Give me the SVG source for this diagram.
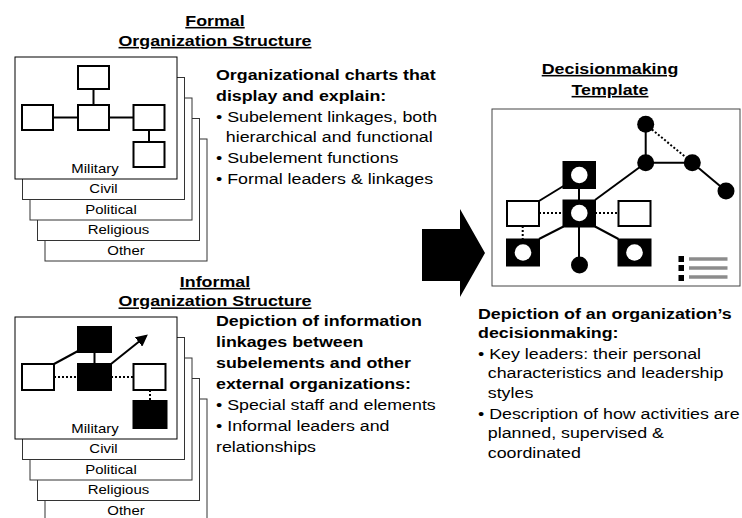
<svg xmlns="http://www.w3.org/2000/svg" width="742" height="518" viewBox="0 0 742 518">
  <defs>
    <style>
      text { font-family: "Liberation Sans", Arial, sans-serif; fill: #000; }
      .title { font-size: 15.5px; font-weight: bold; text-anchor: middle; text-decoration: underline; }
      .bold { font-size: 15.5px; font-weight: bold; }
      .body { font-size: 15.5px; }
      .label { font-size: 13px; text-anchor: middle; }
      .sheet { fill: #fff; stroke: #333; stroke-width: 1; }
      .sheet-top { fill: #fff; stroke: #000; stroke-width: 1; }
      .box { fill: #fff; stroke: #000; stroke-width: 2; }
      .solid { fill: #000; stroke: #000; stroke-width: 2; }
      .link { fill: none; stroke: #000; stroke-width: 2; }
      .dotted { fill: none; stroke: #000; stroke-width: 2; stroke-dasharray: 2 2; }
      .dot { fill: #000; }
      .hole { fill: #fff; }
      .frame { fill: #fff; stroke: #444; stroke-width: 1; }
      .legend-line { stroke: #8c8c8c; stroke-width: 3.5; }
    </style>
    <marker id="arrowhead" viewBox="0 0 10 10" refX="8" refY="5" markerWidth="6" markerHeight="6" orient="auto" markerUnits="strokeWidth">
      <path d="M0,0 L10,5 L0,10 z" fill="#000"/>
    </marker>
  </defs>

  <!-- Formal organization structure -->
  <g id="formal-title" transform="translate(215,0) scale(1.15,1)">
    <text class="title" x="0" y="26">Formal</text>
    <text class="title" x="0" y="46">Organization Structure</text>
  </g>

  <g id="formal-stack">
    <rect class="sheet" x="45" y="139" width="162" height="122"/>
    <text class="label" x="126" y="255" transform="translate(126,0) scale(1.15,1) translate(-126,0)">Other</text>
    <rect class="sheet" x="37.5" y="118.5" width="162" height="122"/>
    <text class="label" x="118.5" y="234.5" transform="translate(118.5,0) scale(1.15,1) translate(-118.5,0)">Religious</text>
    <rect class="sheet" x="30" y="98" width="162" height="122"/>
    <text class="label" x="111" y="214" transform="translate(111,0) scale(1.15,1) translate(-111,0)">Political</text>
    <rect class="sheet" x="22.5" y="77.5" width="162" height="122"/>
    <text class="label" x="103.5" y="193.5" transform="translate(103.5,0) scale(1.15,1) translate(-103.5,0)">Civil</text>
    <rect class="sheet-top" x="15" y="57" width="162" height="122"/>
    <text class="label" x="95" y="173" transform="translate(95,0) scale(1.15,1) translate(-95,0)">Military</text>
  </g>

  <g id="formal-connectors">
    <line class="link" x1="93.5" y1="89" x2="93.5" y2="105"/>
    <line class="link" x1="53" y1="117.5" x2="78" y2="117.5"/>
    <line class="link" x1="109" y1="117.5" x2="133.5" y2="117.5"/>
    <line class="link" x1="149" y1="130" x2="149" y2="142"/>
  </g>
  <g id="formal-top"><rect class="box" x="78" y="66" width="31" height="23"/></g>
  <g id="formal-left"><rect class="box" x="22" y="105" width="31" height="25"/></g>
  <g id="formal-center"><rect class="box" x="78" y="105" width="31" height="25"/></g>
  <g id="formal-right"><rect class="box" x="133.5" y="105" width="31" height="25"/></g>
  <g id="formal-bottom"><rect class="box" x="133.5" y="142" width="31" height="25"/></g>

  <g id="formal-text" transform="translate(216,0) scale(1.15,1)">
    <text class="bold" x="0" y="80">Organizational charts that</text>
    <text class="bold" x="0" y="101">display and explain:</text>
    <text class="body" x="0" y="122">• Subelement linkages, both</text>
    <text class="body" x="8.5" y="142">hierarchical and functional</text>
    <text class="body" x="0" y="163">• Subelement functions</text>
    <text class="body" x="0" y="184">• Formal leaders &amp; linkages</text>
  </g>

  <!-- Informal organization structure -->
  <g id="informal-title" transform="translate(215,0) scale(1.15,1)">
    <text class="title" x="0" y="287">Informal</text>
    <text class="title" x="0" y="306.5">Organization Structure</text>
  </g>

  <g id="informal-stack">
    <rect class="sheet" x="45" y="399" width="162" height="122"/>
    <text class="label" x="126" y="515" transform="translate(126,0) scale(1.15,1) translate(-126,0)">Other</text>
    <rect class="sheet" x="37.5" y="378.5" width="162" height="122"/>
    <text class="label" x="118.5" y="494.5" transform="translate(118.5,0) scale(1.15,1) translate(-118.5,0)">Religious</text>
    <rect class="sheet" x="30" y="358" width="162" height="122"/>
    <text class="label" x="111" y="474" transform="translate(111,0) scale(1.15,1) translate(-111,0)">Political</text>
    <rect class="sheet" x="22.5" y="337.5" width="162" height="122"/>
    <text class="label" x="103.5" y="453.5" transform="translate(103.5,0) scale(1.15,1) translate(-103.5,0)">Civil</text>
    <rect class="sheet-top" x="15" y="317" width="162" height="122"/>
    <text class="label" x="95" y="433" transform="translate(95,0) scale(1.15,1) translate(-95,0)">Military</text>
  </g>

  <g id="informal-connectors">
    <line class="link" x1="54" y1="364" x2="78" y2="351"/>
    <line class="link" x1="94.5" y1="352" x2="94.5" y2="364"/>
    <line class="dotted" x1="54" y1="377" x2="78" y2="377"/>
    <line class="dotted" x1="111" y1="377" x2="133.5" y2="377"/>
    <line class="dotted" x1="150" y1="390" x2="150" y2="401"/>
    <line class="link" x1="111" y1="364" x2="146" y2="336" marker-end="url(#arrowhead)"/>
  </g>
  <g id="informal-top"><rect class="solid" x="78" y="327" width="33" height="25"/></g>
  <g id="informal-left"><rect class="box" x="22" y="364" width="32" height="26"/></g>
  <g id="informal-center"><rect class="solid" x="78" y="364" width="33" height="26"/></g>
  <g id="informal-right"><rect class="box" x="133.5" y="364" width="32" height="26"/></g>
  <g id="informal-bottom"><rect class="solid" x="133.5" y="401" width="33" height="27"/></g>

  <g id="informal-text" transform="translate(216,0) scale(1.15,1)">
    <text class="bold" x="0" y="326">Depiction of information</text>
    <text class="bold" x="0" y="347">linkages between</text>
    <text class="bold" x="0" y="368">subelements and other</text>
    <text class="bold" x="0" y="389">external organizations:</text>
    <text class="body" x="0" y="410">• Special staff and elements</text>
    <text class="body" x="0" y="431">• Informal leaders and</text>
    <text class="body" x="0" y="452">relationships</text>
  </g>

  <!-- Transition arrow -->
  <g id="transition-arrow">
    <polygon points="422,229 460,229 460,209 485,253 460,297 460,281 422,281" fill="#000"/>
  </g>

  <!-- Decisionmaking template -->
  <g id="decision-title" transform="translate(610,0) scale(1.15,1)">
    <text class="title" x="0" y="74">Decisionmaking</text>
    <text class="title" x="0" y="95">Template</text>
  </g>

  <g id="decision-frame"><rect class="frame" x="492" y="109" width="248" height="177"/></g>

  <g id="decision-connectors">
    <line class="link" x1="645.7" y1="124.3" x2="645.7" y2="162.7"/>
    <line class="dotted" x1="645.7" y1="124.3" x2="692.3" y2="162.7"/>
    <line class="link" x1="645.7" y1="162.7" x2="692.3" y2="162.7"/>
    <line class="link" x1="692.3" y1="162.7" x2="726" y2="191"/>
    <line class="link" x1="595" y1="200" x2="645.7" y2="162.7"/>
    <line class="link" x1="579" y1="188" x2="579" y2="200"/>
    <line class="link" x1="563.5" y1="186" x2="539" y2="201"/>
    <line class="dotted" x1="539" y1="213" x2="563.5" y2="213"/>
    <line class="dotted" x1="595" y1="213" x2="618.5" y2="213"/>
    <line class="dotted" x1="522.7" y1="226" x2="522.7" y2="239"/>
    <line class="link" x1="563.5" y1="226.5" x2="539" y2="239"/>
    <line class="link" x1="595" y1="226.5" x2="618.5" y2="239"/>
    <line class="link" x1="579" y1="226.5" x2="579" y2="265"/>
  </g>

  <g id="leader-top"><circle class="dot" cx="645.7" cy="124.3" r="8.5"/></g>
  <g id="leader-mid"><circle class="dot" cx="645.7" cy="162.7" r="8.5"/></g>
  <g id="leader-right"><circle class="dot" cx="692.3" cy="162.7" r="8.5"/></g>
  <g id="leader-far"><circle class="dot" cx="726" cy="191" r="8.5"/></g>
  <g id="leader-bottom"><circle class="dot" cx="579.5" cy="265" r="8.5"/></g>

  <g id="unit-top"><rect class="solid" x="563.5" y="162" width="31.5" height="26"/><circle class="hole" cx="579.3" cy="175" r="8.3"/></g>
  <g id="unit-center"><rect class="solid" x="563.5" y="200.5" width="31.5" height="26"/><circle class="hole" cx="579.3" cy="213" r="8.3"/></g>
  <g id="unit-left"><rect class="box" x="507" y="201" width="32" height="25"/></g>
  <g id="unit-right"><rect class="box" x="618.5" y="201" width="32" height="25"/></g>
  <g id="unit-bottom-left"><rect class="solid" x="507" y="239.5" width="32" height="26"/><circle class="hole" cx="523" cy="252.5" r="8.3"/></g>
  <g id="unit-bottom-right"><rect class="solid" x="618.5" y="239.5" width="32" height="26"/><circle class="hole" cx="634.5" cy="252.5" r="8.3"/></g>

  <g id="legend">
    <rect x="678.5" y="256" width="5.5" height="6" fill="#000"/>
    <rect x="678.5" y="265" width="5.5" height="6" fill="#000"/>
    <rect x="678.5" y="275" width="5.5" height="6" fill="#000"/>
    <line class="legend-line" x1="689" y1="259" x2="727.5" y2="259"/>
    <line class="legend-line" x1="689" y1="268" x2="727.5" y2="268"/>
    <line class="legend-line" x1="689" y1="277" x2="727.5" y2="277"/>
  </g>

  <g id="decision-text" transform="translate(478,0) scale(1.15,1)">
    <text class="bold" x="0" y="319">Depiction of an organization’s</text>
    <text class="bold" x="0" y="338.5">decisionmaking:</text>
    <text class="body" x="0" y="359">• Key leaders: their personal</text>
    <text class="body" x="8.5" y="378.5">characteristics and leadership</text>
    <text class="body" x="8.5" y="398">styles</text>
    <text class="body" x="0" y="419">• Description of how activities are</text>
    <text class="body" x="8.5" y="438.5">planned, supervised &amp;</text>
    <text class="body" x="8.5" y="458">coordinated</text>
  </g>
</svg>
